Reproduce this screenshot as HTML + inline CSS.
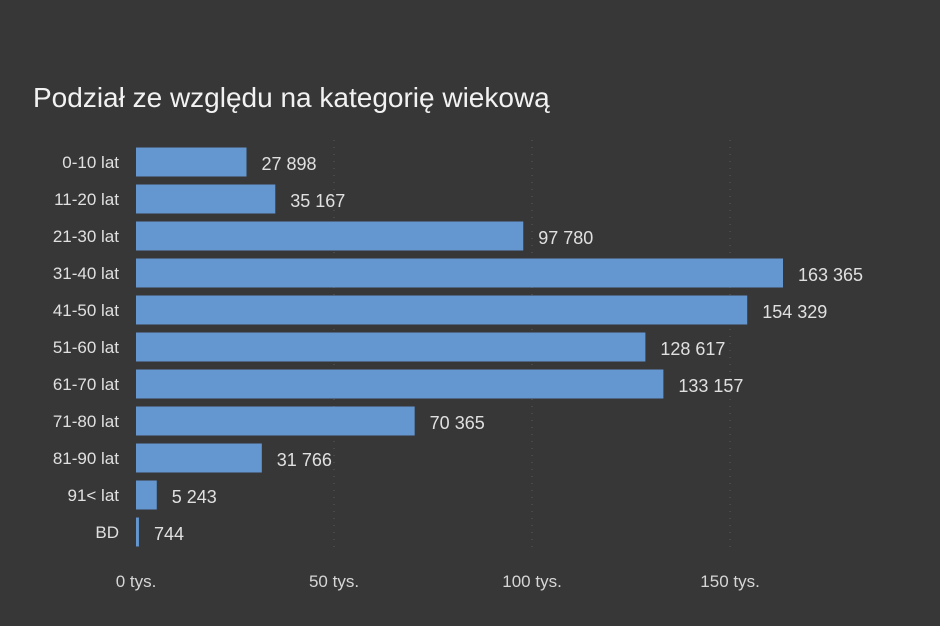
<!DOCTYPE html>
<html><head><meta charset="utf-8">
<style>
body{margin:0;background:#373737;}
svg{display:block;font-family:"Liberation Sans",sans-serif;}
</style></head>
<body>
<svg id="chart" width="940" height="626">
<rect width="940" height="626" fill="#373737"/>
<text x="33" y="107" font-size="28" fill="#f2f2f2">Podział ze względu na kategorię wiekową</text>
<g id="grid"></g><g id="bars"></g>
</svg>
<script>
const categories=["0-10 lat","11-20 lat","21-30 lat","31-40 lat","41-50 lat","51-60 lat","61-70 lat","71-80 lat","81-90 lat","91< lat","BD"];
const values=[27898,35167,97780,163365,154329,128617,133157,70365,31766,5243,744];
const valueLabels=["27 898","35 167","97 780","163 365","154 329","128 617","133 157","70 365","31 766","5 243","744"];
const ticks=[0,50000,100000,150000];
const tickLabels=["0 tys.","50 tys.","100 tys.","150 tys."];
const NS="http://www.w3.org/2000/svg";
const x0=136,scale=647/163365;
const xs=v=>x0+v*scale;
const ys=i=>162+i*37;
const grid=document.getElementById('grid'),bars=document.getElementById('bars');
function mk(tag,attrs,parent){const e=document.createElementNS(NS,tag);for(const k in attrs)e.setAttribute(k,attrs[k]);parent.appendChild(e);return e;}
ticks.forEach((t,i)=>{
  if(t>0){const l=mk('line',{x1:xs(t),x2:xs(t),y1:140,y2:548,stroke:'#5a5a5a','stroke-dasharray':'1 6'},grid);
  
  }
  const tx=mk('text',{x:xs(t),y:587,'font-size':17,fill:'#d6d6d6','text-anchor':'middle'},grid);
  tx.textContent=tickLabels[i];
  
  
});
categories.forEach((c,i)=>{
  const y=ys(i);
  const lb=mk('text',{x:119,y:y+6,'font-size':17,fill:'#e0e0e0','text-anchor':'end'},bars);
  lb.textContent=c;
  
  
  const w=Math.max(xs(values[i])-x0,2);
  const r=mk('rect',{x:x0,y:y-14.5,width:w,height:29,fill:'#6496d0'},bars);
  
  
  const v=mk('text',{x:x0+w+15,y:y+8,'font-size':18,fill:'#e0e0e0'},bars);
  v.textContent=valueLabels[i];
  
  
});
</script>
</body></html>
